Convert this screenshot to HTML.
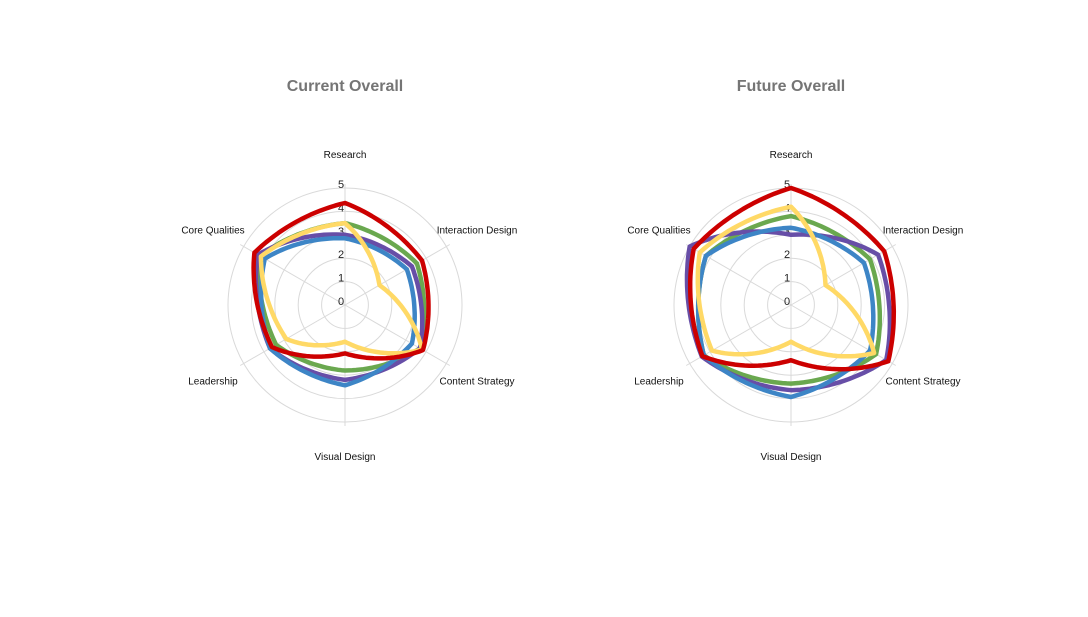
<!DOCTYPE html><html><head><meta charset="utf-8"><style>
body{margin:0;background:#fff;width:1088px;height:612px;overflow:hidden;font-family:"Liberation Sans",sans-serif}
</style></head><body>
<svg id="s" width="1088" height="612" xmlns="http://www.w3.org/2000/svg"></svg>
<script>
const s=document.getElementById('s');
const U=23.4;
const labels=["Research","Interaction Design","Content Strategy","Visual Design","Leadership","Core Qualities"];
const colors={green:"#6aa84f",purple:"#674ea7",blue:"#3d85c6",yellow:"#ffd966",red:"#cc0000"};
const charts=[
 {cx:345,cy:305,title:"Current Overall",data:{
  green:[3.5,3.55,3.7,2.8,3.4,4.2],
  purple:[3.0,3.3,3.7,3.2,3.7,4.3],
  blue:[2.85,3.05,3.3,3.43,3.7,3.96],
  yellow:[3.5,1.7,3.8,1.57,2.9,4.15],
  red:[4.36,3.8,3.85,2.07,3.6,4.47]}},
 {cx:791,cy:305,title:"Future Overall",data:{
  green:[3.8,3.9,4.2,3.36,4.3,4.2],
  purple:[3.0,4.3,4.7,3.64,4.4,5.0],
  blue:[3.3,3.6,3.9,3.93,4.3,4.2],
  yellow:[4.2,1.7,4.1,1.57,3.9,4.5],
  red:[5.0,4.6,4.8,2.36,4.37,4.8]}}
];
let h='';
for(const c of charts){
 h+=`<text x="${c.cx}" y="91" text-anchor="middle" font-size="16" font-weight="bold" fill="#757575">${c.title}</text>`;
 for(let i=1;i<=5;i++)h+=`<circle cx="${c.cx}" cy="${c.cy}" r="${i*U}" fill="none" stroke="#d9d9d9" stroke-width="1"/>`;
 for(let k=0;k<6;k++){const a=k*Math.PI/3;
  h+=`<line x1="${c.cx}" y1="${c.cy}" x2="${c.cx+Math.sin(a)*121}" y2="${c.cy-Math.cos(a)*121}" stroke="#d9d9d9"/>`;
  const ly=c.cy-Math.cos(a)*151+4;
  let lxx=c.cx; if(k==1||k==2)lxx=c.cx+132; if(k==4||k==5)lxx=c.cx-132;
  h+=`<text x="${lxx}" y="${ly}" text-anchor="middle" font-size="10" fill="#111">${labels[k]}</text>`;
 }
 for(let i=0;i<=5;i++)h+=`<text x="${c.cx-4}" y="${c.cy-i*U}" text-anchor="middle" font-size="11" fill="#222">${i}</text>`;
 for(const key of ["green","purple","blue","yellow","red"]){
  const v=c.data[key];let pts=[];
  for(let k=0;k<6;k++){const v1=v[k],v2=v[(k+1)%6];
   const a1=k*Math.PI/3,a2=(k+1)*Math.PI/3;
   const x1=Math.sin(a1)*v1*U,y1=-Math.cos(a1)*v1*U,x2=Math.sin(a2)*v2*U,y2=-Math.cos(a2)*v2*U;
   for(let t=0;t<20;t++){const f=t/20,a=(k+f)*Math.PI/3,r=(v1+(v2-v1)*f)*U;
    const sx=Math.sin(a)*r,sy=-Math.cos(a)*r,lx=x1+(x2-x1)*f,ly=y1+(y2-y1)*f;
    const px=c.cx+0.5*sx+0.5*lx,py=c.cy+0.5*sy+0.5*ly;
    pts.push(px.toFixed(1)+','+py.toFixed(1));}}
  h+=`<polygon points="${pts.join(' ')}" fill="none" stroke="${colors[key]}" stroke-width="4.5" stroke-linejoin="round"/>`;
 }
}
s.innerHTML=h;
</script></body></html>
